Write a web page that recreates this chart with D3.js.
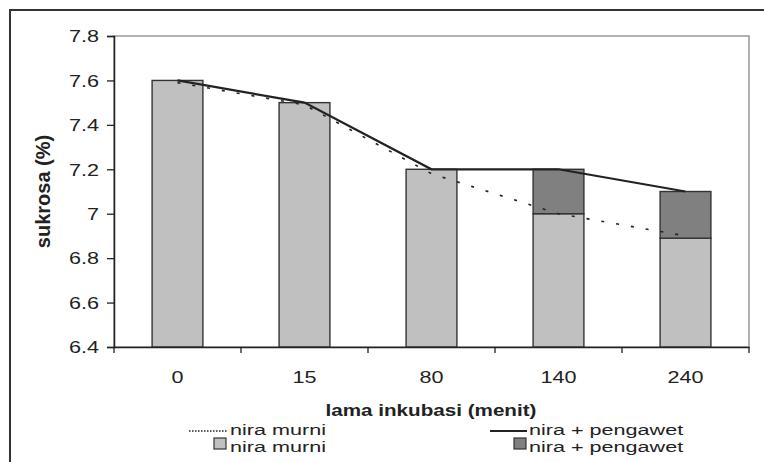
<!DOCTYPE html>
<html>
<head>
<meta charset="utf-8">
<title>sukrosa</title>
<script src="https://d3js.org/d3.v7.min.js"></script>
<style>
  body {margin: 0; background: #fff; font-family: "Liberation Sans", Arial, sans-serif;}
  .tick text {font-size: 16px; fill: #222;}
  .title {font-weight: bold; fill: #222;}
  .leg {font-size: 14.5px; fill: #222;}
</style>
</head>
<body>
<svg id="chart" width="764" height="462"></svg>
<script>
// data
var categories = ["0", "15", "80", "140", "240"];
var murni = [7.6, 7.5, 7.2, 7.0, 6.89];        // light bars
var pengawet = [7.6, 7.5, 7.2, 7.2, 7.1];      // bar tops incl. dark part
var lineMurni = [7.59, 7.49, 7.18, 7.0, 6.9];
var linePengawet = [7.6, 7.5, 7.2, 7.2, 7.1];
var yTicks = [6.4, 6.6, 6.8, 7, 7.2, 7.4, 7.6, 7.8];

var SX = 1.35; // text in the original is stretched sideways

var svg = d3.select("#chart");
var margin = {top: 36, left: 114, right: 15, bottom: 115};
var W = 764, H = 462;
var width = W - margin.left - margin.right,
    height = H - margin.top - margin.bottom;

// outer frame
svg.append("rect")
    .attr("x", 10).attr("y", 10)
    .attr("width", 770).attr("height", 470)
    .attr("fill", "none").attr("stroke", "#333").attr("stroke-width", 2);

var g = svg.append("g").attr("transform", "translate(" + margin.left + "," + margin.top + ")");

var xb = d3.scaleBand().domain(categories).range([0, width]);
var y = d3.scaleLinear().domain([6.4, 7.8]).range([height, 0]);

// plot area border (gray)
g.append("rect")
    .attr("width", width).attr("height", height)
    .attr("fill", "none").attr("stroke", "#999").attr("stroke-width", 1.5);

// bars
var bx = function(d) { return xb(d) + xb.bandwidth() * 0.3; };
var bars = g.append("g");
bars.selectAll(".lo").data(categories).enter().append("rect")
    .attr("x", bx)
    .attr("width", xb.bandwidth() * 0.4)
    .attr("y", function(d, i) { return y(murni[i]); })
    .attr("height", function(d, i) { return height - y(murni[i]); })
    .attr("fill", "#c0c0c0").attr("stroke", "#333").attr("stroke-width", 1.4);
bars.selectAll(".hi").data(categories.filter(function(d, i) { return pengawet[i] > murni[i] + 0.001; }))
    .enter().append("rect")
    .attr("x", bx)
    .attr("width", xb.bandwidth() * 0.4)
    .attr("y", function(d) { return y(pengawet[categories.indexOf(d)]); })
    .attr("height", function(d) { var i = categories.indexOf(d); return y(murni[i]) - y(pengawet[i]); })
    .attr("fill", "#808080").attr("stroke", "#333").attr("stroke-width", 1.4);

// axes
var yAxis = g.append("g")
    .call(d3.axisLeft(y).tickValues(yTicks).tickSize(7).tickFormat(d3.format("")));
yAxis.select(".domain").attr("stroke", "#222").attr("stroke-width", 1.5);
yAxis.selectAll(".tick line").attr("stroke", "#222").attr("stroke-width", 1.3);
yAxis.selectAll(".tick text")
    .attr("x", 0).attr("dy", "0.36em")
    .attr("transform", "translate(-15,0) scale(" + SX + ",1)");

var xAxis = g.append("g").attr("transform", "translate(0," + height + ")")
    .call(d3.axisBottom(xb).tickSize(0));
xAxis.select(".domain").attr("stroke", "#222").attr("stroke-width", 1.5);
xAxis.selectAll(".tick text")
    .attr("y", 0).attr("dy", 0)
    .attr("transform", "translate(0,36) scale(" + SX + ",1)");
// category separator ticks
xAxis.selectAll(".sep").data(categories.concat(["end"])).enter().append("line")
    .attr("x1", function(d, i) { return i * xb.step(); })
    .attr("x2", function(d, i) { return i * xb.step(); })
    .attr("y1", 0).attr("y2", 6)
    .attr("stroke", "#222").attr("stroke-width", 1.3);

// lines
var cx = function(d, i) { return xb(categories[i]) + xb.bandwidth() / 2; };
var ln = d3.line().x(cx).y(function(d) { return y(d); });
g.append("path").datum(lineMurni).attr("d", ln)
    .attr("fill", "none").attr("stroke", "#222").attr("stroke-width", 1.6)
    .attr("stroke-dasharray", "3,12");
g.append("path").datum(linePengawet).attr("d", ln)
    .attr("fill", "none").attr("stroke", "#222").attr("stroke-width", 2.2);

// axis titles
svg.append("text").attr("class", "title")
    .style("font-size", "20px")
    .attr("transform", "translate(50," + (margin.top + height / 2) + ") rotate(-90)")
    .attr("text-anchor", "middle").text("sukrosa (%)");
svg.append("text").attr("class", "title")
    .style("font-size", "16px")
    .attr("transform", "translate(431,415.5) scale(1.29,1)")
    .attr("text-anchor", "middle").text("lama inkubasi (menit)");

// legend
var LX = 1.49;
var leg = svg.append("g");
leg.append("line").attr("x1", 189).attr("x2", 227).attr("y1", 431).attr("y2", 431)
    .attr("stroke", "#222").attr("stroke-width", 1.3).attr("stroke-dasharray", "1.5,1.5");
leg.append("line").attr("x1", 490).attr("x2", 527).attr("y1", 431).attr("y2", 431)
    .attr("stroke", "#222").attr("stroke-width", 1.8);
leg.append("rect").attr("x", 214).attr("y", 438).attr("width", 12).attr("height", 11)
    .attr("fill", "#c0c0c0").attr("stroke", "#333").attr("stroke-width", 1.2);
leg.append("rect").attr("x", 514).attr("y", 438).attr("width", 12).attr("height", 11)
    .attr("fill", "#808080").attr("stroke", "#333").attr("stroke-width", 1.2);
var legText = [
  {x: 230, y: 435, t: "nira murni"},
  {x: 529, y: 435, t: "nira + pengawet"},
  {x: 230, y: 451.5, t: "nira murni"},
  {x: 529, y: 451.5, t: "nira + pengawet"}
];
leg.selectAll("text").data(legText).enter().append("text").attr("class", "leg")
    .attr("transform", function(d) { return "translate(" + d.x + "," + d.y + ") scale(" + LX + ",1)"; })
    .text(function(d) { return d.t; });
</script>
</body>
</html>
